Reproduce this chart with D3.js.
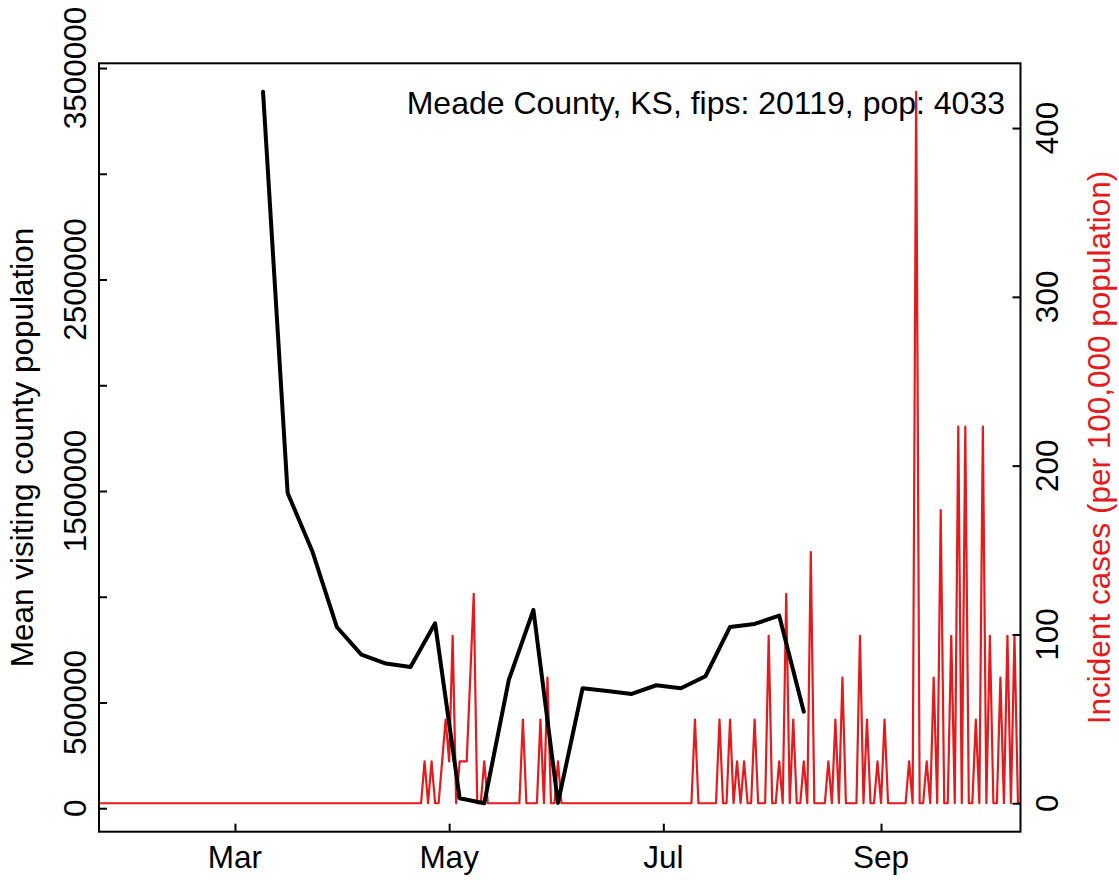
<!DOCTYPE html>
<html><head><meta charset="utf-8">
<script src="https://cdn.jsdelivr.net/npm/d3@7"></script>
<style>
body{margin:0;background:#fff}
svg{display:block}
text{font-family:"Liberation Sans",Arial,Helvetica,sans-serif}
</style>
</head><body>
<svg id="chart" width="1119" height="880"></svg>
<script>
// ---------------- data ----------------
const visitDates = ["2020-03-09","2020-03-16","2020-03-23","2020-03-30","2020-04-06","2020-04-13",
  "2020-04-20","2020-04-27","2020-05-04","2020-05-11","2020-05-18","2020-05-25","2020-06-01",
  "2020-06-08","2020-06-15","2020-06-22","2020-06-29","2020-07-06","2020-07-13","2020-07-20",
  "2020-07-27","2020-08-03","2020-08-10"];
const visitValues = [3387800,1490600,1216400,857100,726600,684100,
  668000,874200,47300,23600,606600,937500,25000,
  567300,554500,540400,581500,567300,624100,857100,
  871300,910600,456700];

// daily incident cases per 100,000 population, starting 2020-01-22
const caseStart = "2020-01-22";
const incJan = [0,0,0,0,0,0,0,0,0,0];                       // Jan 22-31
const incFeb = [0,0,0,0,0,0,0,0,0,0,0,0,0,0,0,0,0,0,0,0,0,0,0,0,0,0,0,0,0];
const incMar = [0,0,0,0,0,0,0,0,0,0,0,0,0,0,0,0,0,0,0,0,0,0,0,0,0,0,0,0,0,0,0];
const incApr = [0,0,0,0,0,0,0,0,0,0,0,0,0,0,0,0,0,0,0,0,0,0,0,24.8,0,24.8,0,0,24.8,49.6];
const incMay = [24.8,99.2,0,24.8,24.8,24.8,74.4,124.0,0,0,24.8,0,0,0,0,0,0,0,0,0,0,49.6,0,0,0,0,49.6,0,74.4,0,0];
const incJun = [24.8,0,0,0,0,0,0,0,0,0,0,0,0,0,0,0,0,0,0,0,0,0,0,0,0,0,0,0,0,0];
const incJul = [0,0,0,0,0,0,0,0,0,49.6,0,0,0,0,0,0,49.6,0,0,49.6,0,24.8,0,24.8,0,0,49.6,0,0,0,99.2];
const incAug = [0,0,24.8,0,124.0,0,49.6,0,0,24.8,0,148.8,0,0,0,0,24.8,0,49.6,0,74.4,0,0,0,0,99.2,0,49.6,0,0,24.8];
const incSep = [0,49.6,0,0,0,0,0,0,24.8,0,421.5,0,0,24.8,0,74.4,0,173.6,0,0,99.2,0,223.2,0,223.2,0,0,49.6,0,223.2];
const incOct = [0,99.2,0,0,74.4,0,99.2,0,99.2,0,0];            // Oct 1-11

const xLimits = ["2020-02-01","2020-10-01"];
const monthTicks = ["2020-03-01","2020-05-01","2020-07-01","2020-09-01"];
const monthLabels = ["Mar","May","Jul","Sep"];
const leftTicks = [0,500000,1000000,1500000,2000000,2500000,3000000,3500000];
const leftTickLabels = ["0","500000","","1500000","","2500000","","3500000"];
const rightTicks = [0,100,200,300,400];
const rightTickLabels = ["0","100","200","300","400"];
const titleText = "Meade County, KS, fips: 20119, pop: 4033";
const leftLabel = "Mean visiting county population";
const rightLabel = "Incident cases (per 100,000 population)";

// ---------------- layout ----------------
const W = 1119, H = 880;
const P = {l: 99, r: 1020.5, t: 63.3, b: 831.7};
const FS = 31.5;
const RED = "#e41a1c";

const parse = d3.utcParse("%Y-%m-%d");
const svg = d3.select("#chart");

function expand(a, b) { const s = b - a; return [a - 0.04 * s, b + 0.04 * s]; }

const xl = xLimits.map(parse);
const xe = expand(+xl[0], +xl[1]);
const x = d3.scaleUtc().domain([new Date(xe[0]), new Date(xe[1])]).range([P.l, P.r]);
const yL = d3.scaleLinear().domain(expand(d3.min(visitValues), d3.max(visitValues))).range([P.b, P.t]);

const incidence = [].concat(incJan, incFeb, incMar, incApr, incMay, incJun, incJul, incAug, incSep, incOct);
const start = parse(caseStart);
const caseSeries = incidence.map((v, i) => ({date: d3.utcDay.offset(start, i), v}));
const yR = d3.scaleLinear().domain(expand(0, d3.max(incidence))).range([P.b, P.t]);

const visitSeries = visitDates.map((d, i) => ({date: parse(d), v: visitValues[i]}));

svg.append("defs").append("clipPath").attr("id", "clip")
  .append("rect").attr("x", P.l).attr("y", P.t).attr("width", P.r - P.l).attr("height", P.b - P.t);

// red incidence line
svg.append("path").datum(caseSeries)
  .attr("clip-path", "url(#clip)")
  .attr("fill", "none").attr("stroke", RED).attr("stroke-width", 2.2)
  .attr("stroke-linejoin", "round")
  .attr("d", d3.line().x(d => x(d.date)).y(d => yR(d.v)));

// black mobility line
svg.append("path").datum(visitSeries)
  .attr("fill", "none").attr("stroke", "#000").attr("stroke-width", 4)
  .attr("stroke-linejoin", "round").attr("stroke-linecap", "round")
  .attr("d", d3.line().x(d => x(d.date)).y(d => yL(d.v)));

// axes (inward ticks)
const gx = svg.append("g").attr("transform", `translate(0,${P.b})`)
  .call(d3.axisBottom(x).tickValues(monthTicks.map(parse)).tickSize(-8).tickFormat(""));
const gl = svg.append("g").attr("transform", `translate(${P.l},0)`)
  .call(d3.axisLeft(yL).tickValues(leftTicks).tickSize(-8).tickFormat(""));
const gr = svg.append("g").attr("transform", `translate(${P.r},0)`)
  .call(d3.axisRight(yR).tickValues(rightTicks).tickSize(-8).tickFormat(""));
[gx, gl, gr].forEach(g => {
  g.select(".domain").remove();
  g.selectAll(".tick line").attr("stroke", "#000").attr("stroke-width", 2);
});

// box
svg.append("rect").attr("x", P.l).attr("y", P.t).attr("width", P.r - P.l).attr("height", P.b - P.t)
  .attr("fill", "none").attr("stroke", "#000").attr("stroke-width", 2);

// tick labels
svg.append("g").selectAll("text").data(monthTicks).join("text")
  .attr("x", d => x(parse(d))).attr("y", 868).attr("text-anchor", "middle")
  .attr("font-size", FS).attr("fill", "#000")
  .text((d, i) => monthLabels[i]);

svg.append("g").selectAll("text").data(leftTicks).join("text")
  .attr("transform", d => `translate(86,${yL(d)}) rotate(-90)`)
  .attr("text-anchor", "middle").attr("font-size", FS).attr("fill", "#000")
  .text((d, i) => leftTickLabels[i]);

svg.append("g").selectAll("text").data(rightTicks).join("text")
  .attr("transform", d => `translate(1058,${yR(d)}) rotate(-90)`)
  .attr("text-anchor", "middle").attr("font-size", FS).attr("fill", "#000")
  .text((d, i) => rightTickLabels[i]);

// axis titles
const cy = (P.t + P.b) / 2;
svg.append("text").attr("transform", `translate(33,${cy}) rotate(-90)`)
  .attr("text-anchor", "middle").attr("font-size", FS).attr("fill", "#000").text(leftLabel);
svg.append("text").attr("transform", `translate(1110,${cy}) rotate(-90)`)
  .attr("text-anchor", "middle").attr("font-size", FS).attr("fill", RED).text(rightLabel);

// annotation
svg.append("text").attr("x", 1005).attr("y", 114).attr("text-anchor", "end")
  .attr("font-size", 32).attr("fill", "#000").text(titleText);
</script>
</body></html>
